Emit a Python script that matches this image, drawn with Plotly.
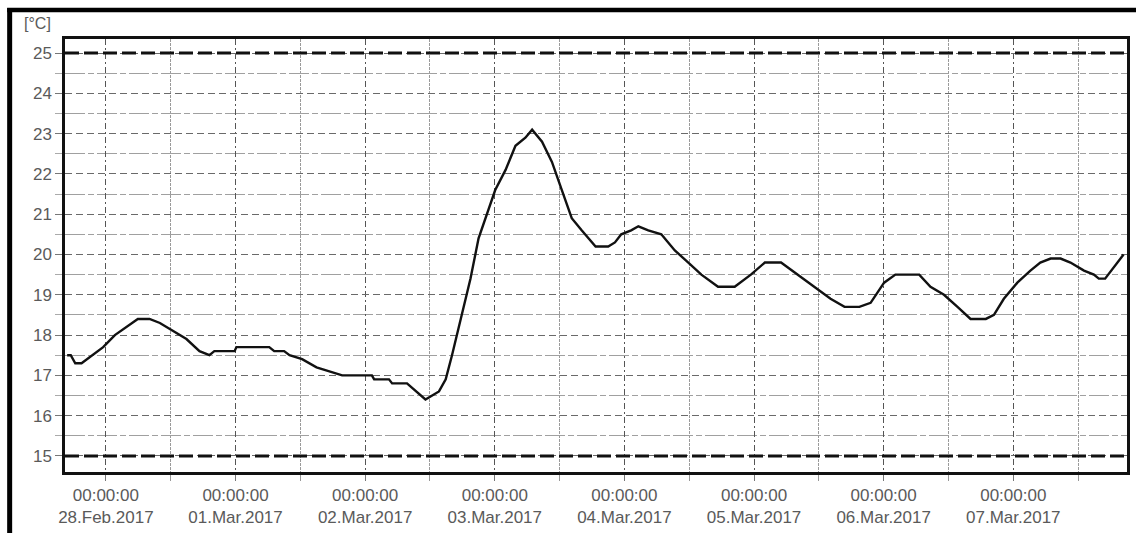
import plotly.graph_objects as go

# ---- data ----
times = [
    "2017-02-27 16:50", "2017-02-27 17:30", "2017-02-27 18:20", "2017-02-27 19:30",
    "2017-02-27 23:30", "2017-02-28 01:40", "2017-02-28 05:55", "2017-02-28 08:05",
    "2017-02-28 10:00", "2017-02-28 12:20", "2017-02-28 14:55", "2017-02-28 17:20",
    "2017-02-28 19:10", "2017-02-28 20:05", "2017-02-28 23:50", "2017-03-01 00:10",
    "2017-03-01 06:15", "2017-03-01 07:10", "2017-03-01 09:00", "2017-03-01 10:00",
    "2017-03-01 12:20", "2017-03-01 15:00", "2017-03-01 17:20", "2017-03-01 19:45",
    "2017-03-02 01:15", "2017-03-02 01:40", "2017-03-02 04:25", "2017-03-02 05:00",
    "2017-03-02 07:45", "2017-03-02 11:10", "2017-03-02 13:40", "2017-03-02 14:55",
    "2017-03-02 16:05", "2017-03-02 17:55", "2017-03-02 19:30", "2017-03-02 21:00",
    "2017-03-02 22:15", "2017-03-03 00:05", "2017-03-03 02:00", "2017-03-03 03:50",
    "2017-03-03 05:40", "2017-03-03 06:55", "2017-03-03 08:45", "2017-03-03 10:35",
    "2017-03-03 12:25", "2017-03-03 14:15", "2017-03-03 16:05", "2017-03-03 18:00",
    "2017-03-03 18:40", "2017-03-03 21:00", "2017-03-03 22:15", "2017-03-03 23:25",
    "2017-03-04 01:15", "2017-03-04 02:35", "2017-03-04 04:25", "2017-03-04 06:50",
    "2017-03-04 09:20", "2017-03-04 11:50", "2017-03-04 14:15", "2017-03-04 17:20",
    "2017-03-04 20:25", "2017-03-04 23:25", "2017-03-05 02:00", "2017-03-05 05:00",
    "2017-03-05 08:05", "2017-03-05 11:10", "2017-03-05 14:10", "2017-03-05 16:45",
    "2017-03-05 19:30", "2017-03-05 21:35", "2017-03-06 00:05", "2017-03-06 02:10",
    "2017-03-06 06:35", "2017-03-06 08:40", "2017-03-06 11:10", "2017-03-06 13:40",
    "2017-03-06 16:05", "2017-03-06 16:45", "2017-03-06 18:55", "2017-03-06 20:25",
    "2017-03-06 22:15", "2017-03-07 00:45", "2017-03-07 03:10", "2017-03-07 05:00",
    "2017-03-07 06:55", "2017-03-07 08:45", "2017-03-07 10:35", "2017-03-07 13:05",
    "2017-03-07 14:55", "2017-03-07 15:50", "2017-03-07 17:00", "2017-03-07 20:25",
]
temps = [
    17.5, 17.5, 17.3, 17.3,
    17.7, 18.0, 18.4, 18.4,
    18.3, 18.1, 17.9, 17.6,
    17.5, 17.6, 17.6, 17.7,
    17.7, 17.6, 17.6, 17.5,
    17.4, 17.2, 17.1, 17.0,
    17.0, 16.9, 16.9, 16.8,
    16.8, 16.4, 16.6, 16.9,
    17.5, 18.5, 19.4, 20.4,
    20.9, 21.6, 22.1, 22.7,
    22.9, 23.1, 22.8, 22.3,
    21.6, 20.9, 20.6, 20.3,
    20.2, 20.2, 20.3, 20.5,
    20.6, 20.7, 20.6, 20.5,
    20.1, 19.8, 19.5, 19.2,
    19.2, 19.5, 19.8, 19.8,
    19.5, 19.2, 18.9, 18.7,
    18.7, 18.8, 19.3, 19.5,
    19.5, 19.2, 19.0, 18.7,
    18.4, 18.4, 18.4, 18.5,
    18.9, 19.3, 19.6, 19.8,
    19.9, 19.9, 19.8, 19.6,
    19.5, 19.4, 19.4, 20.0,
]
limit_high = 25
limit_low = 15
y_unit = "[°C]"
x_range = ["2017-02-27 16:26", "2017-03-07 21:03"]
y_range = [14.6, 25.35]

FONT = "Liberation Sans, Arial, sans-serif"
TICK_COLOR = "#5a5a5a"

fig = go.Figure()
fig.add_trace(go.Scatter(x=times, y=temps, mode="lines",
                         line=dict(color="#111111", width=2.4),
                         showlegend=False, hoverinfo="x+y"))

for lim in (limit_high, limit_low):
    fig.add_shape(type="line", xref="paper", x0=0, x1=1, yref="y", y0=lim, y1=lim,
                  line=dict(color="#111111", width=3, dash="14px,5px"), layer="above")

# outer thick frame (top and left)
PL, PT, PW, PH = 65, 39, 1065, 439
def px2x(px):
    return (px - PL) / PW
def py2y(py):
    return (PT + PH - py) / PH

fig.add_shape(type="line", xref="paper", yref="paper",
              x0=px2x(7), x1=px2x(1140), y0=py2y(9.5), y1=py2y(9.5),
              line=dict(color="black", width=4.5), layer="above")
fig.add_shape(type="line", xref="paper", yref="paper",
              x0=px2x(9.5), x1=px2x(9.5), y0=py2y(7.5), y1=py2y(540),
              line=dict(color="black", width=5), layer="above")

fig.add_annotation(text=y_unit, xref="paper", yref="paper",
                   x=px2x(22), y=py2y(23), xanchor="left", yanchor="middle",
                   showarrow=False, font=dict(family=FONT, size=16, color=TICK_COLOR))

fig.update_layout(
    width=1136, height=533,
    margin=dict(l=PL, r=1136 - PL - PW, t=PT, b=533 - PT - PH),
    paper_bgcolor="white", plot_bgcolor="white",
    font=dict(family=FONT, size=17, color=TICK_COLOR),
    showlegend=False,
)

fig.update_xaxes(
    type="date", range=x_range,
    tick0="2017-02-28", dtick=86400000,
    tickformat="%H:%M:%S<br>%d.%b.%Y",
    ticks="outside", ticklen=6, tickwidth=1, tickcolor="#777",
    showline=True, linecolor="#111", linewidth=2.5, mirror=True,
    showgrid=True, gridcolor="#555", gridwidth=1, griddash="6px,3px,2px,3px",
    minor=dict(dtick=43200000, tick0="2017-02-28", showgrid=True, gridcolor="#9a9a9a",
               gridwidth=1, griddash="3px,1px", ticks="outside", ticklen=6,
               tickcolor="#999"),
    tickfont=dict(family=FONT, size=17, color=TICK_COLOR),
    zeroline=False,
)
fig.update_yaxes(
    range=y_range, tick0=15, dtick=1,
    ticks="outside", ticklen=7, tickwidth=1, tickcolor="#777",
    showline=True, linecolor="#111", linewidth=2.5, mirror=True,
    showgrid=True, gridcolor="#6a6a6a", gridwidth=1, griddash="7px,4px",
    minor=dict(dtick=0.5, tick0=15, showgrid=True, gridcolor="#a0a0a0", gridwidth=1.2,
               griddash="20px,3px,6px,3px", ticks="outside", ticklen=7, tickcolor="#aaa"),
    tickfont=dict(family=FONT, size=17, color=TICK_COLOR),
    zeroline=False,
)

fig.write_html("out.html",
               config={"displayModeBar": False},
               post_script="document.body.style.margin='0';"
                           "document.body.style.overflow='hidden';")
